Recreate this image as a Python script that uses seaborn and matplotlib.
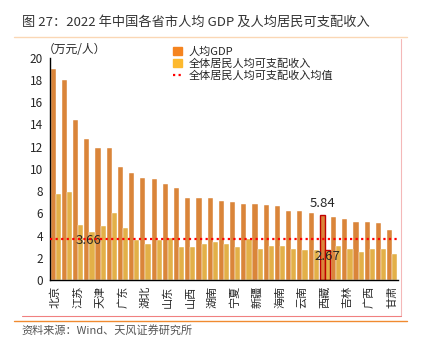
import pandas as pd
import numpy as np
import matplotlib.pyplot as plt
import seaborn as sns
from matplotlib.lines import Line2D

sns.set_style("white")
plt.rcParams['font.family'] = ['Noto Sans CJK SC', 'DejaVu Sans']

# 2022 数据（万元/人）
provinces = ["北京", "上海", "江苏", "福建", "天津", "浙江", "广东", "内蒙古", "湖北", "重庆",
             "山东", "陕西", "山西", "安徽", "湖南", "江西", "宁夏", "辽宁", "新疆", "四川",
             "海南", "河南", "云南", "青海", "西藏", "河北", "吉林", "贵州", "广西", "黑龙江", "甘肃"]
gdp_pc = [19.0, 17.99, 14.4, 12.65, 11.9, 11.85, 10.15, 9.6, 9.2, 9.06,
          8.6, 8.3, 7.37, 7.36, 7.36, 7.12, 6.98, 6.88, 6.86, 6.78,
          6.66, 6.21, 6.17, 6.07, 5.84, 5.70, 5.53, 5.23, 5.22, 5.11, 4.50]
income_pc = [7.76, 7.96, 4.93, 4.31, 4.85, 6.00, 4.71, 3.57, 3.25, 3.57,
             3.75, 3.01, 2.93, 3.27, 3.45, 3.28, 2.99, 3.66, 2.77, 3.03,
             3.09, 2.81, 2.69, 2.70, 2.67, 3.09, 2.80, 2.55, 2.80, 2.83, 2.33]
income_mean = 3.66
highlight = "西藏"

df = pd.DataFrame({"省份": provinces, "人均GDP": gdp_pc, "全体居民人均可支配收入": income_pc})
long_df = df.melt(id_vars="省份", var_name="指标", value_name="值")

fig = plt.figure(figsize=(4.21, 3.5), dpi=100)
ax = fig.add_axes([0.119, 0.2, 0.826, 0.635])

sns.barplot(data=long_df, x="省份", y="值", hue="指标", order=provinces,
            palette=["#F5841F", "#FDB92E"], width=0.92, edgecolor="white",
            linewidth=0.3, ax=ax)

# 高亮西藏
hi = provinces.index(highlight)
for cont in ax.containers:
    cont[hi].set_edgecolor("#C00000")
    cont[hi].set_linewidth(1.0)

ax.axhline(income_mean, color="red", linestyle=(0, (1, 1.5)), linewidth=1.6, zorder=5)

ax.text(hi - 0.2, gdp_pc[hi] + 0.5, f"{gdp_pc[hi]:.2f}", ha="center", va="bottom", fontsize=9.5)
ax.text(hi + 0.2, income_pc[hi] - 0.6, f"{income_pc[hi]:.2f}", ha="center", va="center", fontsize=9.5)
ax.text(2.9, income_mean - 0.1, f"{income_mean:.2f}", ha="center", va="center", fontsize=9.5)

ax.set_ylim(0, 20)
ax.set_xlim(-0.5, len(provinces) - 0.5)
ax.set_yticks(range(0, 21, 2))
ax.set_xticks(range(len(provinces)))
ax.set_xticklabels([p if i % 2 == 0 else "" for i, p in enumerate(provinces)],
                   rotation=90, fontsize=8)
ax.set_xticks(np.arange(-0.5, len(provinces), 1), minor=True)
ax.tick_params(axis="x", which="major", length=0, pad=4)
ax.tick_params(axis="x", which="minor", length=3, width=0.8, direction="out", color="black")
ax.tick_params(axis="y", length=3, width=0.8, direction="out", labelsize=8.5, pad=2)
ax.set_xlabel("")
ax.set_ylabel("")
for s in ["top", "right"]:
    ax.spines[s].set_visible(False)
for s in ["left", "bottom"]:
    ax.spines[s].set_color("black")
    ax.spines[s].set_linewidth(1.0)

ax.text(-0.02, 1.035, "（万元/人）", transform=ax.transAxes, fontsize=8.5, ha="left", va="center",
        style="italic")

handles = [plt.Rectangle((0, 0), 1, 1, color="#F5841F"),
           plt.Rectangle((0, 0), 1, 1, color="#FDB92E"),
           Line2D([0], [0], color="red", linestyle=(0, (1, 1.5)), linewidth=1.6)]
ax.legend(handles, ["人均GDP", "全体居民人均可支配收入", "全体居民人均可支配收入均值"],
          loc="upper left", bbox_to_anchor=(0.34, 1.07), frameon=False, fontsize=8,
          handlelength=0.8, handleheight=0.7, handletextpad=0.6, labelspacing=0.15,
          borderaxespad=0)

# 标题与装饰线
fig.text(0.052, 0.937, "图 27：2022 年中国各省市人均 GDP 及人均居民可支配收入",
         fontsize=9.5, color="#333333", ha="left", va="center")
fig.add_artist(Line2D([0.033, 0.967], [0.894, 0.894], color="#FAD7B5", linewidth=1.0))
fig.add_artist(Line2D([0.952, 0.952], [0.097, 0.89], color="#F4B8B8", linewidth=0.8))
fig.add_artist(Line2D([0.052, 0.952], [0.097, 0.097], color="#F08080", linewidth=0.8))
fig.add_artist(Line2D([0.033, 0.967], [0.083, 0.083], color="#F08A30", linewidth=1.0))
fig.text(0.052, 0.055, "资料来源：Wind、天风证券研究所", fontsize=8, color="#555555",
         ha="left", va="center")

fig.savefig("out.png", dpi=100)
